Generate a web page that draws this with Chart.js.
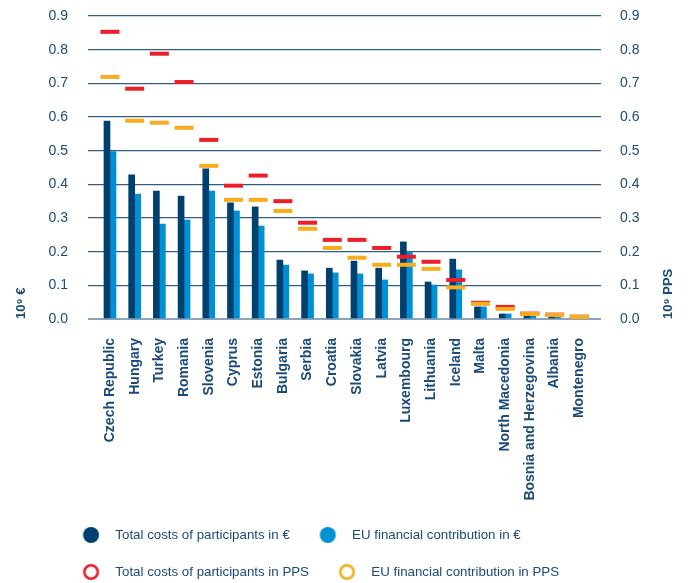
<!DOCTYPE html>
<html>
<head>
<meta charset="utf-8">
<title>Costs and EU financial contribution by country</title>
<script src="https://cdn.jsdelivr.net/npm/chart.js@4.4.1/dist/chart.umd.min.js"></script>
<style>
    html, body { margin: 0; padding: 0; background: #fff; }
    #wrap { position: relative; width: 692px; height: 583px; }
</style>
</head>
<body>
<div id="wrap"><canvas id="canvas1"></canvas></div>
<script>
// values in 10^9 (€ on the left axis, PPS on the right axis)
var countries = ["Czech Republic", "Hungary", "Turkey", "Romania", "Slovenia", "Cyprus", "Estonia",
    "Bulgaria", "Serbia", "Croatia", "Slovakia", "Latvia", "Luxembourg", "Lithuania", "Iceland",
    "Malta", "North Macedonia", "Bosnia and Herzegovina", "Albania", "Montenegro"];
var totalEur = [0.588, 0.428, 0.380, 0.365, 0.446, 0.345, 0.333, 0.175, 0.143, 0.151, 0.172, 0.151,
    0.229, 0.110, 0.178, 0.036, 0.015, 0.009, 0.006, 0.002];
var euEur = [0.497, 0.371, 0.282, 0.294, 0.380, 0.321, 0.276, 0.160, 0.134, 0.137, 0.134, 0.116,
    0.199, 0.101, 0.146, 0.036, 0.015, 0.009, 0.006, 0.002];
var totalPps = [0.853, 0.684, 0.788, 0.704, 0.532, 0.396, 0.426, 0.350, 0.286, 0.235, 0.235, 0.211,
    0.185, 0.170, 0.116, 0.048, 0.036, 0.016, 0.013, 0.007];
var euPps = [0.719, 0.589, 0.583, 0.568, 0.455, 0.354, 0.354, 0.321, 0.268, 0.211, 0.182, 0.161,
    0.161, 0.149, 0.094, 0.045, 0.030, 0.015, 0.012, 0.006];
var yTicks = [0, 0.1, 0.2, 0.3, 0.4, 0.5, 0.6, 0.7, 0.8, 0.9];
var leftTitle = "10⁹ €";
var rightTitle = "10⁹ PPS";

var navy = "#1a4a78";
var darkBlue = "#00406f";
var lightBlue = "#0091d5";
var red = "#ec1f28";
var orange = "#f9ad1d";

Chart.defaults.font.family = '"Liberation Sans", Arial, sans-serif';
Chart.defaults.color = navy;

function points(values)
{
    return values.map(function(v, i) { return {x: i, y: v}; });
}

// legend marker: a circle on the left part of a wider box
function legendDot(color, filled)
{
    var c = document.createElement("canvas");
    c.width = 32;
    c.height = 18;
    var g = c.getContext("2d");
    g.beginPath();
    if (filled) {
        g.arc(14.3, 9, 8, 0, Math.PI * 2);
        g.fillStyle = color;
        g.fill();
    } else {
        g.arc(14.3, 9, 6.7, 0, Math.PI * 2);
        g.lineWidth = 2.6;
        g.strokeStyle = color;
        g.stroke();
    }
    return c;
}

function useTicks(values)
{
    return function(scale) {
        scale.ticks = values.map(function(v) { return {value: v}; });
    };
}

function fitY(width)
{
    return function(scale) {
        scale.width = width;
        scale.paddingTop = 8;
        scale.paddingBottom = 8;
    };
}

// moves the legend to its place and writes the right axis title upwards
var extras = {
    id: "extras",
    beforeDraw: function(chart) {
        chart.legend.left = 53;
        chart.legend.top = 504.6;
    },
    afterDraw: function(chart) {
        var ctx = chart.ctx;
        var y2 = chart.scales.y2;
        ctx.save();
        ctx.translate(y2.right - 24, chart.chartArea.bottom);
        ctx.rotate(-Math.PI / 2);
        ctx.font = 'bold 13px "Liberation Sans", Arial, sans-serif';
        ctx.fillStyle = navy;
        ctx.textAlign = "left";
        ctx.textBaseline = "middle";
        ctx.fillText(rightTitle, 0, 0);
        ctx.restore();
    }
};

var ctx = document.getElementById("canvas1");
new Chart(ctx, {
    type: "bar",
    data: {
        datasets: [
            {type: "bar", label: "Total costs of participants in €", data: points(totalEur),
             backgroundColor: darkBlue, barThickness: 6, yAxisID: "y", order: 2},
            {type: "bar", label: "EU financial contribution in €", data: points(euEur),
             backgroundColor: lightBlue, barThickness: 6, yAxisID: "y", order: 3},
            {type: "line", label: "Total costs of participants in PPS", data: points(totalPps),
             showLine: false, pointStyle: "line", pointRadius: 9.5, pointHoverRadius: 9.5,
             pointBorderWidth: 4, borderColor: red, backgroundColor: red, yAxisID: "y2", order: 1},
            {type: "line", label: "EU financial contribution in PPS", data: points(euPps),
             showLine: false, pointStyle: "line", pointRadius: 9.5, pointHoverRadius: 9.5,
             pointBorderWidth: 4, borderColor: orange, backgroundColor: orange, yAxisID: "y2", order: 0}
        ]
    },
    options: {
        animation: false,
        responsive: true,
        maintainAspectRatio: false,
        layout: {padding: {top: 16, left: 0, right: 0, bottom: -12}},
        plugins: {
            tooltip: {enabled: false},
            legend: {
                position: "bottom",
                align: "start",
                labels: {
                    usePointStyle: true,
                    pointStyleWidth: 32,
                    boxHeight: 16,
                    padding: 23.7,
                    color: navy,
                    font: {size: 13.3},
                    generateLabels: function(chart) {
                        return chart.data.datasets.map(function(ds, i) {
                            return {
                                text: ds.label,
                                pointStyle: legendDot(ds.type === "bar" ? ds.backgroundColor : ds.borderColor, ds.type === "bar"),
                                fillStyle: ds.backgroundColor,
                                strokeStyle: ds.borderColor,
                                lineWidth: 0,
                                hidden: false,
                                fontColor: navy,
                                datasetIndex: i
                            };
                        });
                    }
                }
            }
        },
        scales: {
            x: {
                type: "linear",
                min: -0.89,
                max: 19.88,
                offset: false,
                grid: {display: false},
                border: {display: false},
                afterBuildTicks: useTicks(countries.map(function(c, i) { return i; })),
                afterFit: function(scale) { scale.height = 192; },
                ticks: {
                    autoSkip: false,
                    minRotation: 90,
                    maxRotation: 90,
                    padding: 11,
                    color: navy,
                    font: {size: 14, weight: "bold"},
                    callback: function(value) { return countries[value]; }
                }
            },
            y: {
                position: "left",
                min: 0,
                max: 0.9,
                afterBuildTicks: useTicks(yTicks),
                afterFit: fitY(88),
                border: {display: false},
                grid: {
                    drawTicks: false,
                    color: function(c) { return c.tick.value === 0 ? "#8aa5bb" : "#2f5e88"; },
                    lineWidth: function(c) { return c.tick.value === 0 ? 2 : 1.2; }
                },
                ticks: {
                    padding: 20,
                    color: navy,
                    font: {size: 14},
                    callback: function(v) { return v.toFixed(1); }
                },
                title: {
                    display: true,
                    text: leftTitle,
                    align: "start",
                    color: navy,
                    font: {size: 13, weight: "bold"},
                    padding: {top: 14, bottom: 0}
                }
            },
            y2: {
                position: "right",
                min: 0,
                max: 0.9,
                afterBuildTicks: useTicks(yTicks),
                afterFit: fitY(91),
                border: {display: false},
                grid: {display: false, drawTicks: false},
                ticks: {
                    padding: 19,
                    color: navy,
                    font: {size: 14},
                    callback: function(v) { return v.toFixed(1); }
                }
            }
        }
    },
    plugins: [extras]
});
</script>
</body>
</html>
